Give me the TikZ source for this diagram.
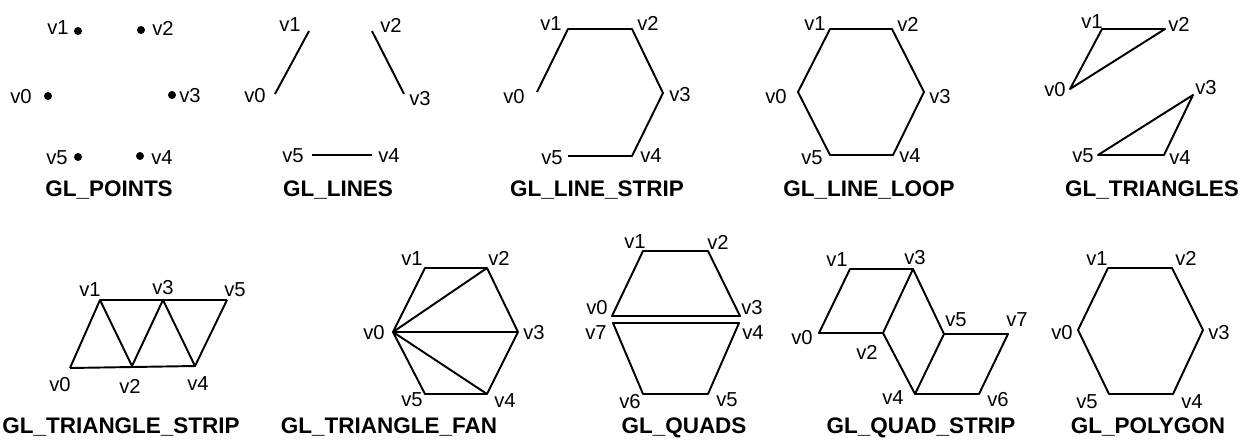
\documentclass[tikz,border=0pt]{standalone}
\usepackage{fontspec}
\setmainfont{Liberation Sans}

\begin{document}
\begin{tikzpicture}[
    x=0.02cm, y=-0.02cm,
    edge/.style={draw, line width=1.1pt, line join=round},
    vdot/.style={circle, fill, inner sep=0pt, minimum size=0.16cm},
    vlabel/.style={inner sep=0pt, font=\fontsize{11.5}{13}\selectfont},
    title/.style={anchor=base, inner sep=0pt, font=\fontsize{12.8}{15}\selectfont\bfseries}
]
\useasboundingbox (0,0) rectangle (1244,444);

% GL_POINTS
\node[vdot] (p0) at (48,96) {};
\node[vdot] (p1) at (78,31) {};
\node[vdot] (p2) at (141,30) {};
\node[vdot] (p3) at (172,95) {};
\node[vdot] (p4) at (140,156) {};
\node[vdot] (p5) at (78,157) {};
\node[vlabel] (p0l) at (21,97) {v0};
\node[vlabel] (p1l) at (58,28) {v1};
\node[vlabel] (p2l) at (163,28) {v2};
\node[vlabel] (p3l) at (190,96) {v3};
\node[vlabel] (p4l) at (162,158) {v4};
\node[vlabel] (p5l) at (57,158) {v5};
\node[title] (pt) at (109,196) {GL\_POINTS};

% GL_LINES
\coordinate (l0) at (275,94);
\coordinate (l1) at (309,31);
\coordinate (l2) at (372,31);
\coordinate (l3) at (404,94);
\coordinate (l4) at (372,155);
\coordinate (l5) at (312,155);
\draw[edge] (l0) -- (l1);
\draw[edge] (l2) -- (l3);
\draw[edge] (l4) -- (l5);
\node[vlabel] (l0l) at (255,96) {v0};
\node[vlabel] (l1l) at (290,25) {v1};
\node[vlabel] (l2l) at (391,25) {v2};
\node[vlabel] (l3l) at (420,99) {v3};
\node[vlabel] (l4l) at (389,156) {v4};
\node[vlabel] (l5l) at (293,156) {v5};
\node[title] (lt) at (338,196) {GL\_LINES};

% GL_LINE_STRIP
\coordinate (s0) at (537,92);
\coordinate (s1) at (568,29);
\coordinate (s2) at (632,29);
\coordinate (s3) at (663,93);
\coordinate (s4) at (632,156);
\coordinate (s5) at (568,156);
\draw[edge] (s0) -- (s1) -- (s2) -- (s3) -- (s4) -- (s5);
\node[vlabel] (s0l) at (514,97) {v0};
\node[vlabel] (s1l) at (551,24) {v1};
\node[vlabel] (s2l) at (648,23) {v2};
\node[vlabel] (s3l) at (680,95) {v3};
\node[vlabel] (s4l) at (651,156) {v4};
\node[vlabel] (s5l) at (552,158) {v5};
\node[title] (st) at (597,196) {GL\_LINE\_STRIP};

% GL_LINE_LOOP
\coordinate (o0) at (798,92);
\coordinate (o1) at (830,29);
\coordinate (o2) at (892,29);
\coordinate (o3) at (924,92);
\coordinate (o4) at (893,155);
\coordinate (o5) at (830,155);
\draw[edge] (o0) -- (o1) -- (o2) -- (o3) -- (o4) -- (o5) -- cycle;
\node[vlabel] (o0l) at (776,97) {v0};
\node[vlabel] (o1l) at (815,24) {v1};
\node[vlabel] (o2l) at (908,24) {v2};
\node[vlabel] (o3l) at (940,97) {v3};
\node[vlabel] (o4l) at (910,156) {v4};
\node[vlabel] (o5l) at (812,158) {v5};
\node[title] (ot) at (869,196) {GL\_LINE\_LOOP};

% GL_TRIANGLES
\coordinate (t0) at (1070,89);
\coordinate (t1) at (1102,29);
\coordinate (t2) at (1165,29);
\coordinate (t3) at (1193,95);
\coordinate (t4) at (1164,155);
\coordinate (t5) at (1098,155);
\draw[edge] (t0) -- (t1) -- (t2) -- cycle;
\draw[edge] (t3) -- (t4) -- (t5) -- cycle;
\node[vlabel] (t0l) at (1055,90) {v0};
\node[vlabel] (t1l) at (1092,22) {v1};
\node[vlabel] (t2l) at (1179,24) {v2};
\node[vlabel] (t3l) at (1206,88) {v3};
\node[vlabel] (t4l) at (1180,158) {v4};
\node[vlabel] (t5l) at (1083,156) {v5};
\node[title] (tt) at (1152,196) {GL\_TRIANGLES};

% GL_TRIANGLE_STRIP
\coordinate (r0) at (70,368);
\coordinate (r1) at (100,300);
\coordinate (r2) at (132,366);
\coordinate (r3) at (163,300);
\coordinate (r4) at (195,366);
\coordinate (r5) at (227,300);
\draw[edge] (r0) -- (r1) -- (r2) -- (r3) -- (r4) -- (r5);
\draw[edge] (r1) -- (r5);
\draw[edge] (r0) -- (r4);
\node[vlabel] (r0l) at (60,385) {v0};
\node[vlabel] (r1l) at (90,290) {v1};
\node[vlabel] (r2l) at (130,386) {v2};
\node[vlabel] (r3l) at (163,288) {v3};
\node[vlabel] (r4l) at (198,384) {v4};
\node[vlabel] (r5l) at (235,290) {v5};
\node[title] (rt) at (121,433) {GL\_TRIANGLE\_STRIP};

% GL_TRIANGLE_FAN
\coordinate (f0) at (393,332);
\coordinate (f1) at (425,268);
\coordinate (f2) at (487,268);
\coordinate (f3) at (518,332);
\coordinate (f4) at (487,394);
\coordinate (f5) at (425,394);
\draw[edge] (f0) -- (f1) -- (f2) -- (f3) -- (f4) -- (f5) -- cycle;
\draw[edge] (f0) -- (f2);
\draw[edge] (f0) -- (f3);
\draw[edge] (f0) -- (f4);
\node[vlabel] (f0l) at (374,333) {v0};
\node[vlabel] (f1l) at (412,259) {v1};
\node[vlabel] (f2l) at (499,258) {v2};
\node[vlabel] (f3l) at (534,333) {v3};
\node[vlabel] (f4l) at (505,401) {v4};
\node[vlabel] (f5l) at (412,400) {v5};
\node[title] (ft) at (389,433) {GL\_TRIANGLE\_FAN};

% GL_QUADS
\coordinate (q0) at (612,316);
\coordinate (q1) at (643,251);
\coordinate (q2) at (708,251);
\coordinate (q3) at (740,316);
\coordinate (q4) at (739,323);
\coordinate (q5) at (708,394);
\coordinate (q6) at (643,394);
\coordinate (q7) at (613,323);
\draw[edge] (q0) -- (q1) -- (q2) -- (q3) -- cycle;
\draw[edge] (q4) -- (q5) -- (q6) -- (q7) -- cycle;
\node[vlabel] (q0l) at (597,308) {v0};
\node[vlabel] (q1l) at (635,242) {v1};
\node[vlabel] (q2l) at (718,242) {v2};
\node[vlabel] (q3l) at (752,308) {v3};
\node[vlabel] (q4l) at (753,333) {v4};
\node[vlabel] (q5l) at (727,400) {v5};
\node[vlabel] (q6l) at (630,402) {v6};
\node[vlabel] (q7l) at (596,333) {v7};
\node[title] (qt) at (684,433) {GL\_QUADS};

% GL_QUAD_STRIP
\coordinate (u0) at (819,333);
\coordinate (u1) at (850,269);
\coordinate (u2) at (883,333);
\coordinate (u3) at (913,269);
\coordinate (u4) at (915,394);
\coordinate (u5) at (944,334);
\coordinate (u6) at (979,394);
\coordinate (u7) at (1008,334);
\draw[edge] (u2) -- (u0) -- (u1) -- (u3) -- (u2) -- (u4) -- (u5) -- (u3);
\draw[edge] (u5) -- (u7) -- (u6) -- (u4);
\node[vlabel] (u0l) at (802,338) {v0};
\node[vlabel] (u1l) at (837,260) {v1};
\node[vlabel] (u2l) at (867,352) {v2};
\node[vlabel] (u3l) at (915,258) {v3};
\node[vlabel] (u4l) at (893,398) {v4};
\node[vlabel] (u5l) at (956,320) {v5};
\node[vlabel] (u6l) at (998,400) {v6};
\node[vlabel] (u7l) at (1017,320) {v7};
\node[title] (ut) at (921,433) {GL\_QUAD\_STRIP};

% GL_POLYGON
\coordinate (g0) at (1078,330);
\coordinate (g1) at (1108,268);
\coordinate (g2) at (1172,268);
\coordinate (g3) at (1203,330);
\coordinate (g4) at (1173,394);
\coordinate (g5) at (1109,394);
\draw[edge] (g0) -- (g1) -- (g2) -- (g3) -- (g4) -- (g5) -- cycle;
\node[vlabel] (g0l) at (1062,333) {v0};
\node[vlabel] (g1l) at (1097,259) {v1};
\node[vlabel] (g2l) at (1186,258) {v2};
\node[vlabel] (g3l) at (1219,333) {v3};
\node[vlabel] (g4l) at (1192,402) {v4};
\node[vlabel] (g5l) at (1087,402) {v5};
\node[title] (gt) at (1148,433) {GL\_POLYGON};

\end{tikzpicture}
\end{document}
